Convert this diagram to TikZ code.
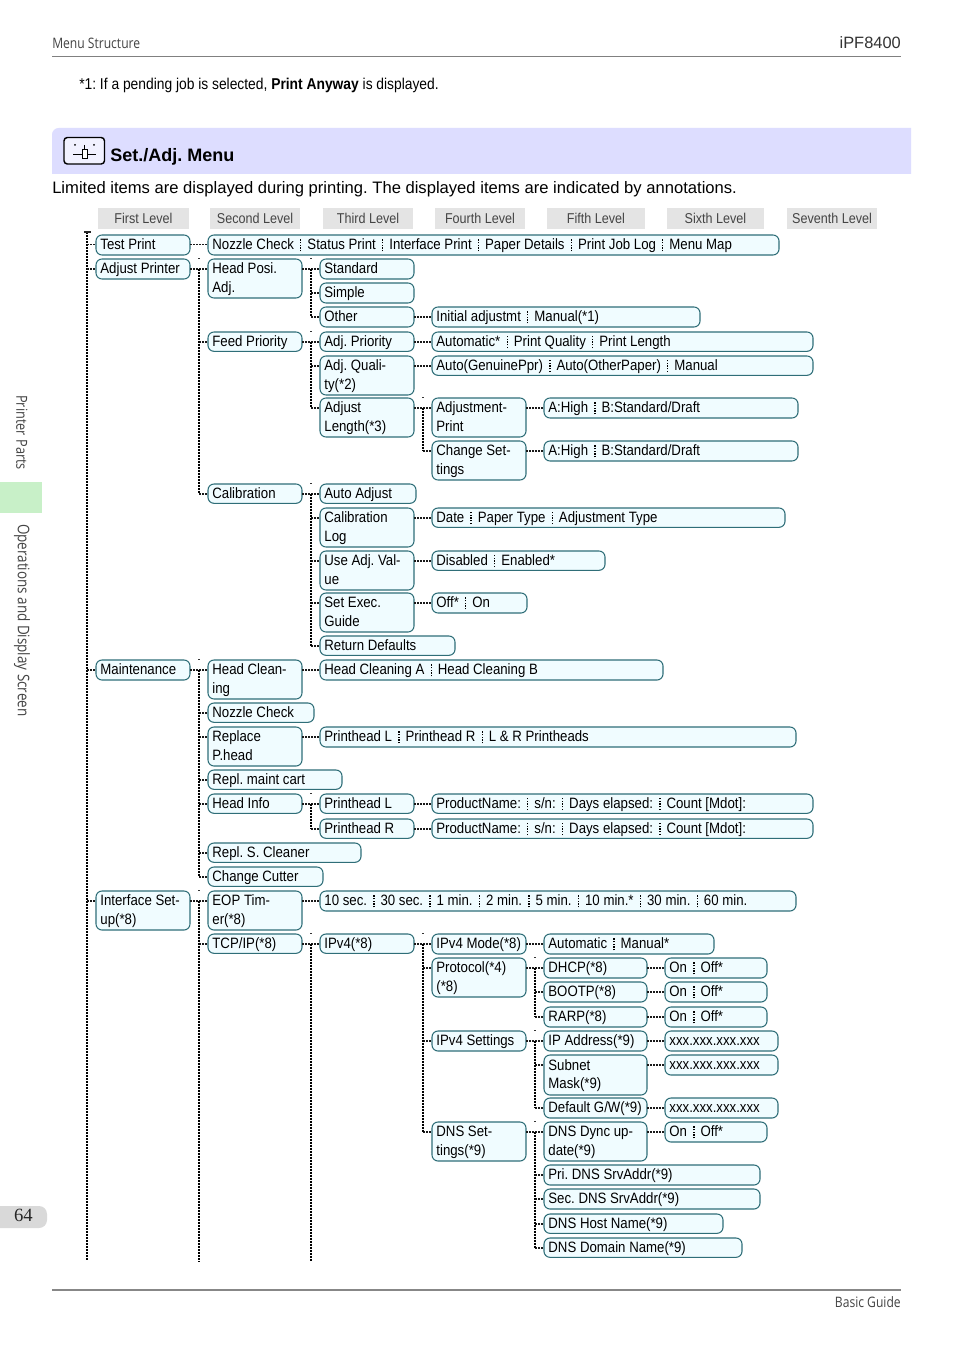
\documentclass[tikz,border=0pt]{standalone}
\usepackage{fontspec}
\setmainfont[FakeStretch=0.882]{Liberation Sans}
\newfontfamily\fullsans{Liberation Sans}
\newfontfamily\lightf[FakeStretch=0.84]{Open Sans}
\newfontfamily\serifp{Liberation Serif}
\definecolor{boxline}{HTML}{2F6E78}
\definecolor{boxfill}{HTML}{F0FCFF}
\definecolor{hdrfill}{HTML}{E4E4E4}
\definecolor{bandfill}{HTML}{DDDDFF}
\definecolor{tabgreen}{HTML}{C8F0C8}
\definecolor{lighttext}{HTML}{444444}
\tikzset{
  mbox/.style={draw=boxline,fill=boxfill,line width=0.8pt,rounded corners=4.5pt,anchor=north west,
    inner xsep=1pt,inner ysep=0pt,outer sep=0pt,align=flush left,
    font=\fontsize{11.25}{14}\selectfont,text=black},
  hdr/.style={fill=hdrfill,anchor=north west,inner sep=0pt,outer sep=0pt,align=center,
    font=\fontsize{10.7}{12}\selectfont,text=lighttext},
  link/.style={line width=1.15pt,dash pattern=on 1.5pt off 0.75pt,color=black!90},
  trunkl/.style={line width=1.9pt,dash pattern=on 1.5pt off 0.75pt,color=black},
  tickl/.style={line width=0.7pt,color=black!80},
  lite/.style={font=\lightf\fontsize{10.8}{13}\selectfont,text=lighttext,inner sep=0pt},
}
\newcommand\sepd{\hspace{4.6pt}\raisebox{-2.6pt}{\vbox to 11pt{\leaders\vbox to 2pt{\vfil\hrule width 1pt height 1.05pt}\vfil}}\hspace{4.5pt}}
\newcommand\bx[6]{%
  \pgfmathsetmacro\bw{(#4-#2)*0.75}%
  \pgfmathsetmacro\bh{(#5-#3)*0.75}%
  \pgfmathsetmacro\tw{\bw-2}%
  \node[mbox,minimum width=\bw pt,minimum height=\bh pt,text width=\tw pt] (#1) at (#2,#3) {\leftskip=2.3pt\rule{0pt}{10.5pt}#6\rule[-3.5pt]{0pt}{3.5pt}\par\kern0.5pt};
  \coordinate (#1-in) at ([yshift=-7.3pt]#1.north west);
  \coordinate (#1-out) at ([yshift=-7.3pt]#1.north east);
}
\newcommand\hd[6]{%
  \pgfmathsetmacro\bw{(#4-#2)*0.75}%
  \pgfmathsetmacro\bh{(#5-#3)*0.75}%
  \node[hdr,minimum width=\bw pt,minimum height=\bh pt] (#1) at (#2,#3) {\raisebox{0.7pt}{#6}};
}
\newcommand\lnk[2]{\draw[link] (#1-out) -- (#2-in);}
\newcommand\kids[3]{%
  \draw[link] (#2-out) -- (#2-out -| #1);
  \foreach \kid in {#3}{\draw[link] (\kid-in -| #1) -- (\kid-in);\xdef\lastkid{\kid}}
  \draw[trunkl] (#2-out -| #1) -- (\lastkid-in -| #1);
  \draw[tickl] (#2-out -| #1) ++(-1,-10) -- ++(2,0);
}
\begin{document}
\frenchspacing
\begin{tikzpicture}[x=0.75pt,y=-0.75pt]
\useasboundingbox (0,0) rectangle (954,1348);
\fill[white] (0,0) rectangle (954,1348);
% page furniture
\node[lite,anchor=west] (pgtitle) at (52,43) {Menu Structure};
\node[anchor=east,inner sep=0pt,font=\fullsans\fontsize{12.3}{14}\selectfont,text=black!80] (pgmodel) at (901,42.5) {iPF8400};
\draw[line width=0.75pt,color=black!50] (52,57) -- (901,57);
\draw[line width=1.5pt,color=black!47] (52,1290) -- (901,1290);
\node[lite,anchor=east] (pgguide) at (901,1302) {Basic Guide};
\fill[tabgreen] (0,482) rectangle (42,513);
\node[lite,rotate=-90,anchor=west,font=\lightf\fontsize{11.4}{13}\selectfont] (tab1) at (22,395) {Printer Parts};
\node[lite,rotate=-90,anchor=west,font=\lightf\fontsize{12}{13}\selectfont] (tab2) at (22,524) {Operations and Display Screen};
\fill[black!15] (0,1206) [rounded corners=6pt] -- (47,1206) -- (47,1228) [sharp corners] -- (0,1228) -- cycle;
\node[inner sep=0pt,font=\serifp\fontsize{14}{16}\selectfont,text=black!85] (pgnum) at (23.5,1215.5) {64};
% note
\node[anchor=west,inner sep=0pt,font=\fontsize{11.75}{14}\selectfont] (note) at (79,85.5) {*1: If a pending job is selected, \textbf{Print Anyway} is displayed.};
% band
\fill[bandfill] (52,174) [rounded corners=5pt] -- (52,128) [sharp corners] -- (911,128) -- (911,174) -- cycle;
\draw[line width=1.1pt,fill=white!60!bandfill,rounded corners=2.5pt] (64,137.5) rectangle (104.5,164);
\draw[line width=0.75pt] (73,155) -- (82,155) (87,155) -- (96,155) (84.5,145) -- (84.5,150);
\draw[line width=0.75pt,fill=white] (82,150) rectangle (87,159);
\fill (75,145) circle (1) (94,145) circle (1);
\node[anchor=west,inner sep=0pt,font=\fullsans\bfseries\fontsize{13.5}{16}\selectfont] (bandtitle) at (110,157) {Set./Adj. Menu};
\node[anchor=west,inner sep=0pt,font=\fullsans\fontsize{12.45}{15}\selectfont] (intro) at (52,189.5) {Limited items are displayed during printing. The displayed items are indicated by annotations.};
% level headers
\hd{h1}{98}{208}{189}{229}{First Level}
\hd{h2}{210}{208}{300}{229}{Second Level}
\hd{h3}{323}{208}{413}{229}{Third Level}
\hd{h4}{435}{208}{525}{229}{Fourth Level}
\hd{h5}{547}{208}{645}{229}{Fifth Level}
\hd{h6}{667}{208}{764}{229}{Sixth Level}
\hd{h7}{787}{208}{877}{229}{Seventh Level}
% trunk positions
\coordinate (t1) at (87,232);
\coordinate (t2) at (199,1261);
\coordinate (t3) at (311,1261);
\coordinate (t4) at (423,1261);
\coordinate (t5) at (535,1261);
\coordinate (t1end) at (87,1261);
% boxes
\bx{testp}{96}{235}{190}{255}{Test Print}
\bx{nozz}{208}{235}{779}{255}{Nozzle Check\sepd Status Print\sepd Interface Print\sepd Paper Details\sepd Print Job Log\sepd Menu Map}
\bx{adjp}{96}{259}{190}{279}{Adjust Printer}
\bx{hpos}{208}{259}{302}{298}{Head Posi.\\Adj.}
\bx{std}{320}{259}{414}{279}{Standard}
\bx{simp}{320}{283}{414}{303}{Simple}
\bx{oth}{320}{307}{414}{327}{Other}
\bx{init}{432}{307}{700}{327}{Initial adjustmt\sepd Manual(*1)}
\bx{feed}{208}{332}{302}{351}{Feed Priority}
\bx{adjpr}{320}{332}{414}{351}{Adj. Priority}
\bx{autom}{432}{332}{813}{351}{Automatic*\sepd Print Quality\sepd Print Length}
\bx{adjq}{320}{356}{414}{395}{Adj. Quali-\\ty(*2)}
\bx{autog}{432}{356}{813}{375}{Auto(GenuinePpr)\sepd Auto(OtherPaper)\sepd Manual}
\bx{adjl}{320}{398}{414}{437}{Adjust\\Length(*3)}
\bx{adjm}{432}{398}{526}{437}{Adjustment-\\Print}
\bx{ahia}{544}{398}{798}{418}{A:High\sepd B:Standard/Draft}
\bx{chg}{432}{441}{526}{480}{Change Set-\\tings}
\bx{ahib}{544}{441}{798}{461}{A:High\sepd B:Standard/Draft}
\bx{cal}{208}{484}{302}{503}{Calibration}
\bx{auad}{320}{484}{416}{503}{Auto Adjust}
\bx{clog}{320}{508}{414}{547}{Calibration\\Log}
\bx{date}{432}{508}{785}{527}{Date\sepd Paper Type\sepd Adjustment Type}
\bx{useadj}{320}{551}{414}{590}{Use Adj. Val-\\ue}
\bx{disb}{432}{551}{605}{570}{Disabled\sepd Enabled*}
\bx{sete}{320}{593}{414}{632}{Set Exec.\\Guide}
\bx{offon}{432}{593}{527}{613}{Off*\sepd On}
\bx{retd}{320}{636}{455}{655}{Return Defaults}
\bx{maint}{96}{660}{190}{680}{Maintenance}
\bx{hcln}{208}{660}{302}{699}{Head Clean-\\ing}
\bx{hcab}{320}{660}{663}{680}{Head Cleaning A\sepd Head Cleaning B}
\bx{nchk}{208}{703}{314}{722}{Nozzle Check}
\bx{repl}{208}{727}{302}{766}{Replace\\P.head}
\bx{phlr}{320}{727}{796}{747}{Printhead L\sepd Printhead R\sepd L \& R Printheads}
\bx{rmc}{208}{770}{342}{789}{Repl. maint cart}
\bx{hinf}{208}{794}{302}{813}{Head Info}
\bx{phl}{320}{794}{414}{813}{Printhead L}
\bx{pnl}{432}{794}{813}{813}{ProductName:\sepd s/n:\sepd Days elapsed:\sepd Count [Mdot]:}
\bx{phr}{320}{819}{414}{838}{Printhead R}
\bx{pnr}{432}{819}{813}{838}{ProductName:\sepd s/n:\sepd Days elapsed:\sepd Count [Mdot]:}
\bx{rsc}{208}{843}{361}{862}{Repl. S. Cleaner}
\bx{ccut}{208}{867}{323}{886}{Change Cutter}
\bx{ifs}{96}{891}{190}{930}{Interface Set-\\up(*8)}
\bx{eop}{208}{891}{302}{930}{EOP Tim-\\er(*8)}
\bx{secs}{320}{891}{796}{911}{10 sec.\sepd 30 sec.\sepd 1 min.\sepd 2 min.\sepd 5 min.\sepd 10 min.*\sepd 30 min.\sepd 60 min.}
\bx{tcp}{208}{934}{302}{953}{TCP/IP(*8)}
\bx{ipv}{320}{934}{414}{953}{IPv4(*8)}
\bx{ipm}{432}{934}{526}{954}{IPv4 Mode(*8)}
\bx{amn}{544}{934}{714}{954}{Automatic\sepd Manual*}
\bx{prot}{432}{958}{526}{997}{Protocol(*4)\\(*8)}
\bx{dhcp}{544}{958}{647}{978}{DHCP(*8)}
\bx{ofa}{665}{958}{767}{978}{On\sepd Off*}
\bx{boot}{544}{982}{647}{1002}{BOOTP(*8)}
\bx{ofb}{665}{982}{767}{1002}{On\sepd Off*}
\bx{rarp}{544}{1007}{647}{1027}{RARP(*8)}
\bx{ofc}{665}{1007}{767}{1027}{On\sepd Off*}
\bx{ips}{432}{1031}{526}{1051}{IPv4 Settings}
\bx{ipa}{544}{1031}{647}{1051}{IP Address(*9)}
\bx{xa}{665}{1031}{778}{1051}{xxx.xxx.xxx.xxx}
\bx{subn}{544}{1055}{647}{1095}{Subnet\\Mask(*9)}
\bx{xb}{665}{1055}{778}{1075}{xxx.xxx.xxx.xxx}
\bx{dgw}{544}{1098}{647}{1118}{Default G/W(*9)}
\bx{xc}{665}{1098}{778}{1118}{xxx.xxx.xxx.xxx}
\bx{dnss}{432}{1122}{526}{1161}{DNS Set-\\tings(*9)}
\bx{dync}{544}{1122}{647}{1161}{DNS Dync up-\\date(*9)}
\bx{ofd}{665}{1122}{767}{1142}{On\sepd Off*}
\bx{pri}{544}{1165}{760}{1185}{Pri. DNS SrvAddr(*9)}
\bx{sec}{544}{1189}{760}{1209}{Sec. DNS SrvAddr(*9)}
\bx{host}{544}{1214}{723}{1233}{DNS Host Name(*9)}
\bx{domn}{544}{1238}{742}{1257}{DNS Domain Name(*9)}
% connectors
\draw[trunkl] (t1) -- (t1end);
\draw[line width=1.4pt,color=black!85] (84,232) -- (91,232);
\foreach \kid in {testp,adjp,maint,ifs}{\draw[link] (\kid-in -| t1) -- (\kid-in);}
\lnk{testp}{nozz}
\kids{t2}{adjp}{hpos,feed,cal}
\kids{t3}{hpos}{std,simp,oth}
\lnk{oth}{init}
\kids{t3}{feed}{adjpr,adjq,adjl}
\lnk{adjpr}{autom}
\lnk{adjq}{autog}
\kids{t4}{adjl}{adjm,chg}
\lnk{adjm}{ahia}
\lnk{chg}{ahib}
\kids{t3}{cal}{auad,clog,useadj,sete,retd}
\lnk{clog}{date}
\lnk{useadj}{disb}
\lnk{sete}{offon}
\kids{t2}{maint}{hcln,nchk,repl,rmc,hinf,rsc,ccut}
\lnk{hcln}{hcab}
\lnk{repl}{phlr}
\kids{t3}{hinf}{phl,phr}
\lnk{phl}{pnl}
\lnk{phr}{pnr}
\kids{t2}{ifs}{eop,tcp}
\draw[trunkl] (ifs-out -| t2) -- (t2);
\lnk{eop}{secs}
\kids{t3}{tcp}{ipv}
\draw[trunkl] (tcp-out -| t3) -- (t3);
\kids{t4}{ipv}{ipm,prot,ips,dnss}
\lnk{ipm}{amn}
\kids{t5}{prot}{dhcp,boot,rarp}
\lnk{dhcp}{ofa}
\lnk{boot}{ofb}
\lnk{rarp}{ofc}
\kids{t5}{ips}{ipa,subn,dgw}
\lnk{ipa}{xa}
\lnk{subn}{xb}
\lnk{dgw}{xc}
\kids{t5}{dnss}{dync,pri,sec,host,domn}
\lnk{dync}{ofd}
\end{tikzpicture}
\end{document}
